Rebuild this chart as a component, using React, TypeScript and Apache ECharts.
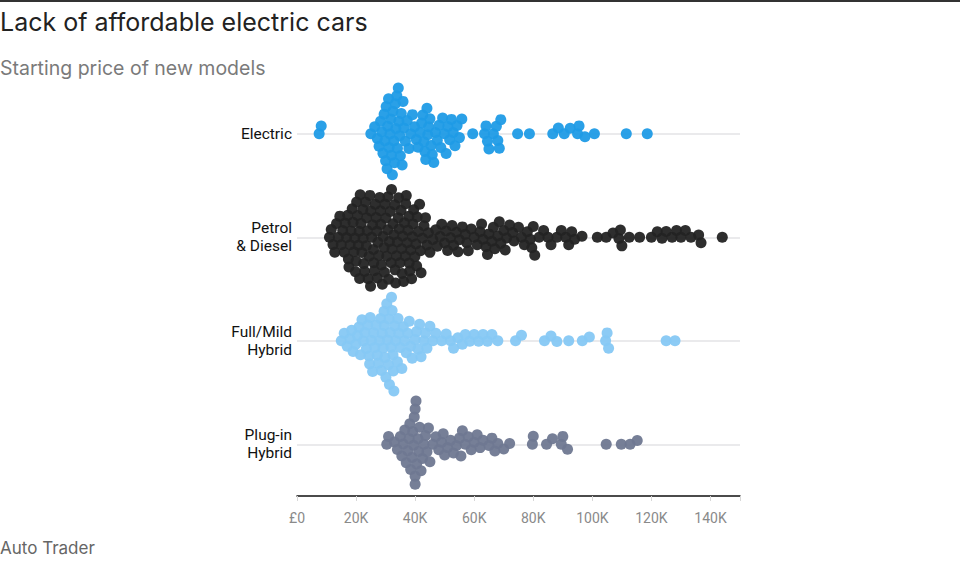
import React, { useEffect, useRef } from "react";
import * as echarts from "echarts";

const categories = ["Electric", "Petrol\n& Diesel", "Full/Mild\nHybrid", "Plug-in\nHybrid"];
const colors = ["#1f9be6", "#232323", "#86c8f4", "#6f7891"];
const xTickValues = [0, 20000, 40000, 60000, 80000, 100000, 120000, 140000];

// starting prices in £ thousands
const electric = [7.5, 8.2,
  25.0, 26.3,
  27.2, 27.8, 28.3, 28.7, 29.1, 29.5, 29.8,
  30.0, 30.2, 30.5, 30.7, 31.0, 31.2, 31.5, 31.8, 32.0, 32.3, 32.5, 32.8, 33.0, 33.3, 33.5, 33.8, 34.0, 34.3, 34.5, 34.8, 35.0, 35.3, 35.6, 35.9, 36.2,
  36.7, 37.3, 37.9, 38.5, 39.1, 39.8, 40.4, 41.0, 41.7,
  42.2, 42.6, 43.0, 43.3, 43.6, 44.0, 44.3, 44.6, 45.0, 45.4, 45.8,
  46.3, 46.9, 47.5, 48.1, 48.7, 49.3, 49.9, 50.5, 51.1, 51.7, 52.3, 52.9, 53.5, 54.2, 55.0, 55.8,
  59.5, 63.5, 64.0, 64.5, 65.0, 66.5, 67.5, 68.0, 68.5, 69.0, 74.7, 78.7, 86.6, 88.5, 90.5, 92.5, 95.0, 95.5, 97.5, 100.7, 111.5, 118.6];

const petrol = [11, 11.6, 12.2, 12.8, 13.4, 14, 14.5, 15, 15.5, 16, 16.3, 16.8, 17.2, 17.4, 17.6, 18, 18.3, 18.7, 19, 19.3, 19.6, 19.8, 20, 20.2, 20.5, 20.8, 21.1, 21.2, 21.4, 21.7, 22, 22.3, 22.4, 22.6, 22.9, 23.2, 23.5, 23.6, 23.8, 24.1, 24.4, 24.7, 24.9, 25, 25.3, 25.6, 25.9, 26.0, 26.2, 26.5, 26.8, 27.1, 27.2, 27.4, 27.7, 28, 28.3, 28.4, 28.6, 28.9, 29.2, 29.5, 29.6, 29.8, 30.1, 30.4, 30.7, 30.8, 31, 31.3, 31.6, 31.9, 32.0, 32.2, 32.5, 32.8, 33.1, 33.2, 33.4, 33.7, 34, 34.3, 34.4, 34.6, 34.9, 35.2, 35.5, 35.6, 35.8, 36.1, 36.4, 36.7, 36.8, 37, 37.3, 37.6, 37.9, 38.0, 38.2, 38.5, 38.8, 39.1, 39.3, 39.5, 39.9, 40.3, 40.5, 40.7, 41.1, 41.5, 41.8, 42, 42.5, 43, 43.5, 44, 44.5, 45,
  46, 47, 47.5, 48.5, 49, 50, 50.5, 51, 52, 52.5, 53, 54, 54.5, 55, 56, 57, 57.5, 58, 59, 60,
  61, 62, 62.5, 63, 64, 64.5, 65, 66, 66.5, 67, 68, 68.5, 69, 70, 70.5, 71, 72, 73, 73.5, 75, 76, 77, 78, 79, 79.5, 80, 80.5,
  82, 83.5, 85, 86, 88, 89.5, 91, 92, 93, 94, 96.5,
  101.7, 104.7, 107, 109, 109.5, 110, 112.5, 116, 120, 122, 123.6, 125, 127, 128.5, 130, 131.5, 133.4, 136, 136.8, 144];

const hybrid = [15, 16, 17, 18, 18.5, 19, 20, 20.5, 21, 21.5, 22, 22.5, 23, 23.5, 24, 24.4, 24.6, 24.8, 25.2, 25.6, 26, 26.4, 26.8, 27.2, 27.6, 28, 28.3, 28.6, 28.9, 29.2, 29.5, 29.6, 29.8, 30.1, 30.4, 30.7, 31, 31.2, 31.3, 31.6, 31.9, 32.0, 32.2, 32.5, 32.6, 32.8, 33.1, 33.5, 34, 34.2, 34.5, 35, 35.5, 36, 36.5, 37, 37.5, 38, 38.5, 39, 40, 40.5, 41, 41.5, 42, 43, 43.5, 44, 45, 46, 47,
  49, 50.5, 52, 53, 54.5, 56, 57, 58.5, 60, 61.5, 63, 64.5, 66, 68,
  74, 76, 83.8, 86, 88, 92, 96.6, 99, 104.5, 105, 105.5, 125, 128];

const plugin = [30.4, 31, 33, 34, 35, 35.5, 36, 36.5, 37, 37.5, 38, 38.2, 38.5, 39, 39.2, 39.5, 39.7, 40, 40, 40, 40.3, 40.5, 41, 41.2, 41.5, 42, 42.5, 43, 43.5, 44, 44.5, 45, 46, 47, 48, 49, 49.5, 50, 51, 52, 53, 54, 55, 55.5, 56, 57, 58, 59, 60, 61, 62, 63, 65, 66, 67, 68, 70, 72,
  79.7, 80, 84.5, 86.5, 89.5, 90, 91.6, 104.7, 109.8, 112.8, 115.2];

const seriesValues = [electric, petrol, hybrid, plugin];

const GRID = { left: 297, right: 220, top: 82, bottom: 75 };
const W = 960, H = 571;
const X_MAX = 150000;
const Y_MAX = 8;

function swarm(valuesK: number[], pxPerUnit: number, diameter: number): { v: number; dy: number }[] {
  const pts = valuesK.map((k) => ({ v: k * 1000, x: k * 1000 * pxPerUnit, dy: 0 }));
  pts.sort((a, b) => a.x - b.x);
  const placed: { x: number; dy: number }[] = [];
  for (const p of pts) {
    const near = placed.filter((q) => Math.abs(q.x - p.x) < diameter);
    const cands = [0];
    for (const q of near) {
      const dx = p.x - q.x;
      const h = Math.sqrt(Math.max(0, diameter * diameter - dx * dx));
      cands.push(q.dy + h + 0.01, q.dy - h - 0.01);
    }
    cands.sort((a, b) => Math.abs(a) - Math.abs(b));
    let chosen = 0;
    for (const c of cands) {
      let ok = true;
      for (const q of near) {
        const dx = p.x - q.x;
        const dd = c - q.dy;
        if (dx * dx + dd * dd < diameter * diameter - 0.01) { ok = false; break; }
      }
      if (ok) { chosen = c; break; }
    }
    p.dy = chosen;
    placed.push({ x: p.x, dy: chosen });
  }
  return pts.map((p) => ({ v: p.v, dy: p.dy }));
}

export default function App() {
  const ref = useRef<HTMLDivElement>(null);
  useEffect(() => {
    document.body.style.margin = "0";
    if (!ref.current) return;
    const chart = echarts.init(ref.current, null, { renderer: "svg" });
    const plotW = W - GRID.left - GRID.right;
    const plotH = H - GRID.top - GRID.bottom;
    const pxPerX = plotW / X_MAX;
    const pxPerY = plotH / Y_MAX;
    const series: any[] = seriesValues.map((vals, i) => {
      const pts = swarm(vals, pxPerX, 8);
      const center = 2 * i + 1;
      return {
        type: "scatter",
        name: categories[i],
        xAxisIndex: 0,
        yAxisIndex: 1,
        symbolSize: 11,
        itemStyle: { color: colors[i], opacity: 0.95 },
        data: pts.map((p) => [p.v, center - p.dy / pxPerY]),
        markLine: {
          silent: true,
          symbol: "none",
          label: { show: false },
          lineStyle: { color: "#e3e3e6", width: 1.5, type: "solid" },
          data: [{ yAxis: center }],
          z: 1,
        },
        z: 3,
      };
    });
    chart.setOption({
      animation: false,
      backgroundColor: "#ffffff",
      grid: { left: GRID.left, right: GRID.right, top: GRID.top, bottom: GRID.bottom },
      xAxis: {
        type: "value",
        min: 0,
        max: X_MAX,
        interval: 20000,
        axisLine: { show: true, onZero: false, lineStyle: { color: "#111", width: 1.5 } },
        axisTick: { show: true, length: 5, lineStyle: { color: "#d8d8d8" } },
        splitLine: { show: false },
        axisLabel: {
          color: "#8a8a8a",
          fontSize: 14,
          fontFamily: "Roboto",
          margin: 15,
          formatter: (v: number) => (xTickValues.includes(v) ? (v === 0 ? "£0" : v / 1000 + "K") : ""),
        },
      },
      yAxis: [
        {
          type: "category",
          data: categories,
          inverse: true,
          axisLine: { show: false },
          axisTick: { show: false },
          splitLine: { show: false },
          axisLabel: {
            color: "#111",
            fontSize: 15.5,
            lineHeight: 18,
            fontFamily: "Roboto",
            margin: 5,
            align: "right",
          },
        },
        { type: "value", min: 0, max: Y_MAX, inverse: true, show: false },
      ],
      graphic: [
        { type: "rect", shape: { x: 0, y: 0, width: W, height: 2 }, style: { fill: "#333" } },
        { type: "text", left: 0, top: 9, style: { text: "Lack of affordable electric cars", fontSize: 25, fontFamily: "Inter", fill: "#222" } },
        { type: "text", left: 0, top: 58, style: { text: "Starting price of new models", fontSize: 19.5, fontFamily: "Inter", fill: "#7a7a7a" } },
        { type: "text", left: 0, top: 539, style: { text: "Auto Trader", fontSize: 17, fontFamily: "Inter", fill: "#666" } },
      ],
      series,
    });
    return () => chart.dispose();
  }, []);
  return <div ref={ref} style={{ width: W, height: H }} />;
}
